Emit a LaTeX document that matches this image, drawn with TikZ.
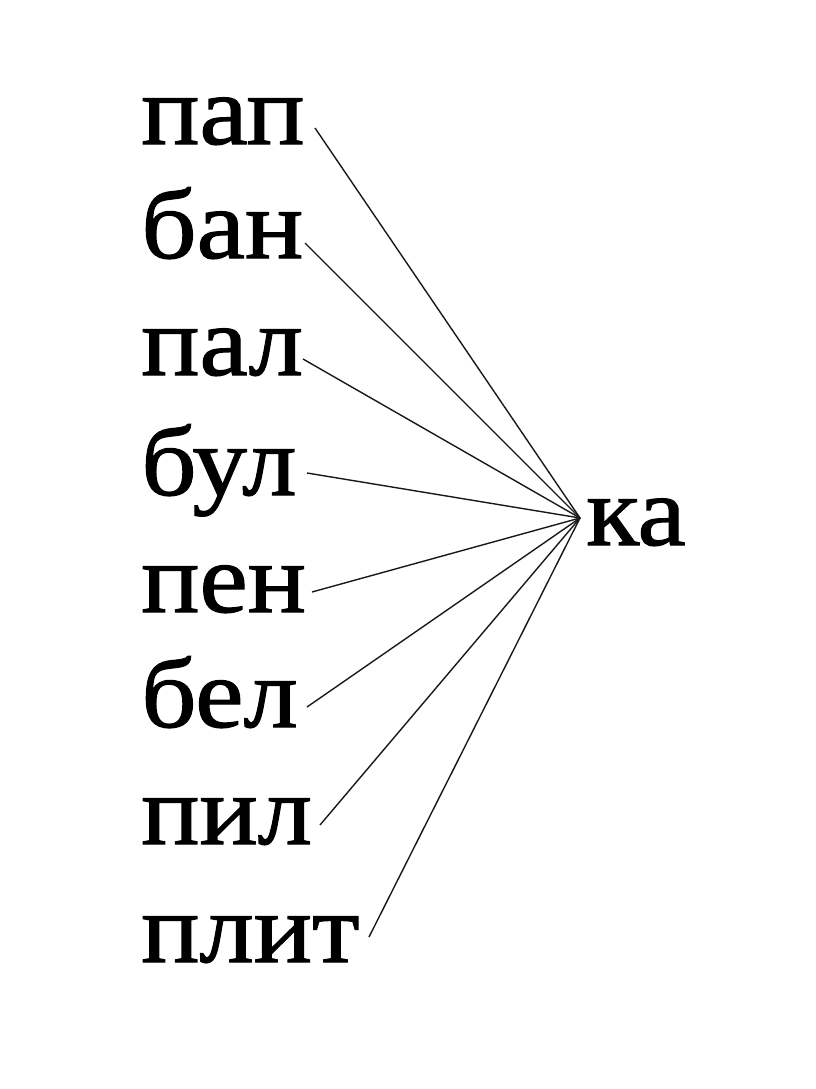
\documentclass[tikz,border=0pt]{standalone}
\usepackage{fontspec}
\setmainfont{Liberation Serif}
\newfontfamily\wordfont{Liberation Serif}[FakeStretch=1.1,FakeBold=1.2]
\begin{document}
\begin{tikzpicture}[x=1pt,y=-1pt,
  word/.style={anchor=base west,inner sep=0pt,font=\wordfont\fontsize{99}{104}\selectfont},
  link/.style={line width=1.4pt,black!90}]
\useasboundingbox (0,0) rectangle (816,1089);
\node[word] (w1) at (141,144) {пап};
\node[word] (w2) at (141,258) {бан};
\node[word] (w3) at (141,375) {пал};
\node[word] (w4) at (141,495) {бул};
\node[word] (w5) at (141,612) {пен};
\node[word] (w6) at (141,727) {бел};
\node[word] (w7) at (141,844) {пил};
\node[word] (w8) at (141,962) {плит};
\node[word] (ka) at (586,545) {ка};
\coordinate (f) at (580,518);
\coordinate (s1) at (315,128);
\coordinate (s2) at (305,243);
\coordinate (s3) at (303,359);
\coordinate (s4) at (307,473);
\coordinate (s5) at (312,592);
\coordinate (s6) at (307,707);
\coordinate (s7) at (320,825);
\coordinate (s8) at (369,937);
\foreach \i in {1,...,8} \draw[link] (s\i) -- (f);
\end{tikzpicture}
\end{document}
